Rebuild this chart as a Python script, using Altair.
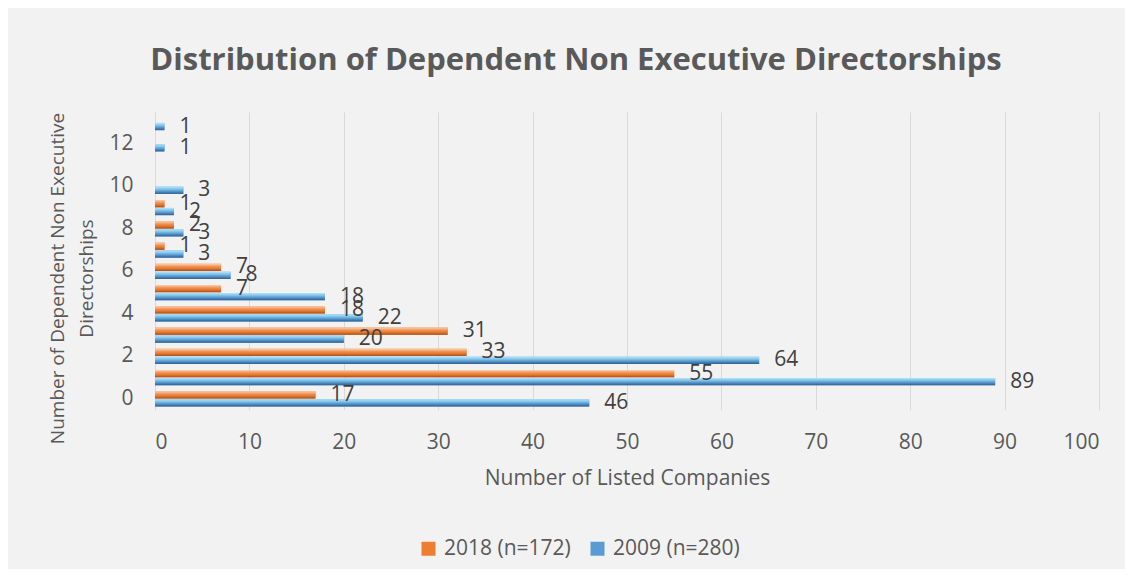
import altair as alt
import pandas as pd

# ---- data ----
categories = list(range(14))
values_2018 = [17, 55, 33, 31, 18, 7, 7, 1, 2, 1, None, None, None, None]
values_2009 = [46, 89, 64, 20, 22, 18, 8, 3, 3, 2, 3, None, 1, 1]
series_names = ["2018 (n=172)", "2009 (n=280)"]
x_ticks = [0, 10, 20, 30, 40, 50, 60, 70, 80, 90, 100]
y_ticks = [0, 2, 4, 6, 8, 10, 12]

rows = []
for c, a, b in zip(categories, values_2018, values_2009):
    if a is not None:
        rows.append({"cat": c, "series": series_names[0], "value": a})
    if b is not None:
        rows.append({"cat": c, "series": series_names[1], "value": b})
df = pd.DataFrame(rows)

FONT = "Open Sans"
TXT = "#595959"
FS = 21

x_enc = alt.X(
    "value:Q",
    scale=alt.Scale(domain=[0, 100], nice=False),
    axis=alt.Axis(
        values=x_ticks, grid=True, gridColor="#D9D9D9", gridWidth=1,
        domain=False, ticks=False, labelPadding=22,
        title="Number of Listed Companies", titleY=69, titleBaseline="middle",
    ),
)
y_enc = alt.Y(
    "cat:O",
    scale=alt.Scale(domain=categories[::-1], paddingInner=0.29, paddingOuter=0.145),
    axis=alt.Axis(
        values=y_ticks, grid=False, domain=False, ticks=False, labelPadding=22,
        title=["Number of Dependent Non Executive", "Directorships"],
        titleX=-98, titleY=166, titleBaseline="middle", titleAlign="center",
        titleLineHeight=29, titleAngle=-90, titleFontSize=19,
    ),
)
yoff_enc = alt.YOffset("series:N", scale=alt.Scale(domain=series_names, paddingInner=0.08))

base = alt.Chart(df)

bars = base.mark_bar().encode(
    x=x_enc, y=y_enc, yOffset=yoff_enc,
    color=alt.Color(
        "series:N",
        scale=alt.Scale(domain=series_names, range=["#ED7D31", "#5B9BD5"]),
        legend=alt.Legend(
            orient="none", legendX=263, legendY=426, direction="horizontal",
            title=None, symbolType="square", symbolSize=196, symbolStrokeWidth=0,
            labelOffset=5, columnPadding=16, padding=0,
            labelFont=FONT, labelFontSize=FS, labelColor=TXT,
        ),
    ),
)

orange_grad = alt.LinearGradient(
    gradient="linear", x1=0, x2=0, y1=0, y2=1,
    stops=[
        alt.GradientStop(color="#FAD0B0", offset=0),
        alt.GradientStop(color="#F19558", offset=0.35),
        alt.GradientStop(color="#E0722A", offset=0.7),
        alt.GradientStop(color="#A34E17", offset=1),
    ],
)
blue_grad = alt.LinearGradient(
    gradient="linear", x1=0, x2=0, y1=0, y2=1,
    stops=[
        alt.GradientStop(color="#B4E6FA", offset=0),
        alt.GradientStop(color="#7FC3EA", offset=0.35),
        alt.GradientStop(color="#4F8CC4", offset=0.7),
        alt.GradientStop(color="#2F5F92", offset=1),
    ],
)

bar18 = base.transform_filter(alt.datum.series == series_names[0]).mark_bar(
    color=orange_grad
).encode(x=x_enc, y=y_enc, yOffset=yoff_enc)
bar09 = base.transform_filter(alt.datum.series == series_names[1]).mark_bar(
    color=blue_grad
).encode(x=x_enc, y=y_enc, yOffset=yoff_enc)

labels = base.mark_text(
    align="left", baseline="middle", dx=15, font=FONT, fontSize=FS, color="#404040"
).encode(x=x_enc, y=y_enc, yOffset=yoff_enc, text="value:Q")

chart = (
    alt.layer(bars, bar18, bar09, labels)
    .properties(
        width=944,
        height=297.5,
        title=alt.TitleParams(
            text="Distribution of Dependent Non Executive Directorships",
            font=FONT, fontSize=31, fontWeight="bold", color=TXT,
            anchor="middle", dx=-51, offset=35,
        ),
        padding={"left": 147, "top": 104, "right": 26, "bottom": 159},
        autosize=alt.AutoSizeParams(type="none"),
        background="#F2F2F2",
    )
    .configure_view(stroke=None)
    .configure_axis(
        labelFont=FONT, labelFontSize=FS, labelColor=TXT,
        titleFont=FONT, titleFontSize=FS, titleColor=TXT, titleFontWeight="normal",
    )
)

chart.save("out.html", embed_options={"renderer": "svg", "actions": False})
